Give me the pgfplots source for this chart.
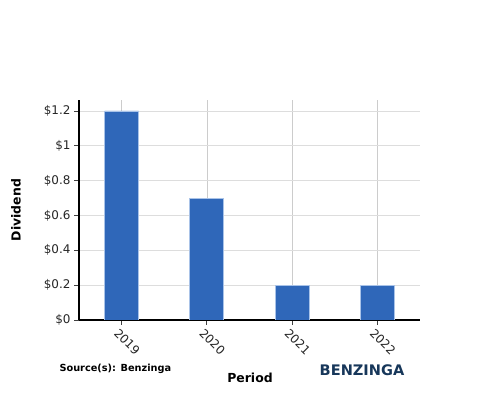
\documentclass[border=0pt]{standalone}
\usepackage{pgfplots}
\pgfplotsset{compat=1.18}
\usepackage{fontspec}
\setmainfont{DejaVu Sans}
\definecolor{barblue}{HTML}{2F67B9}
\definecolor{baredge}{HTML}{A9C3E8}
\definecolor{gridgray}{HTML}{DDDDDD}
\definecolor{bzblue}{HTML}{17375A}
\begin{document}
\begin{tikzpicture}
\path[fill=white] (0bp,0bp) rectangle (500bp,400bp);
\begin{axis}[
  at={(79bp,80bp)}, anchor=south west,
  scale only axis, width=341bp, height=220bp,
  xmin=-0.5, xmax=3.5, ymin=0, ymax=1.263,
  xtick={0,1,2,3}, xticklabels={2019,2020,2021,2022},
  ytick={0,0.2,0.4,0.6,0.8,1,1.2},
  yticklabels={\$0,\$0.2,\$0.4,\$0.6,\$0.8,\$1,\$1.2},
  axis x line*=bottom, axis y line*=left,
  axis line style={line width=1.6bp, black, -},
  tick style={black!75, line width=0.9bp},
  tick align=outside, major tick length=5bp,
  xmajorgrids, ymajorgrids,
  x grid style={black!20, line width=0.5bp},
  y grid style={gridgray, line width=0.8bp},
  tick label style={font=\fontsize{12}{12}\selectfont, text=black!85},
  xticklabel style={rotate=-45, anchor=west, yshift=-8bp, xshift=-3bp},
  ybar, bar width=34bp,
]
\addplot[fill=barblue, draw=baredge, line width=0.8bp] coordinates {(0,1.2) (1,0.7) (2,0.2) (3,0.2)};
\end{axis}
\node[rotate=90, font=\bfseries\fontsize{12.5}{13}\selectfont] at (16bp,190bp) {Dividend};
\node[font=\bfseries\fontsize{12.5}{13}\selectfont] at (250bp,22bp) {Period};
\node[anchor=west, font=\bfseries\fontsize{9.8}{10}\selectfont] at (56bp,31bp) {Source(s): Benzinga};
\node[font=\bfseries\fontsize{14.6}{15}\selectfont, text=bzblue] at (362bp,30bp) {BENZINGA};
\end{tikzpicture}
\end{document}
